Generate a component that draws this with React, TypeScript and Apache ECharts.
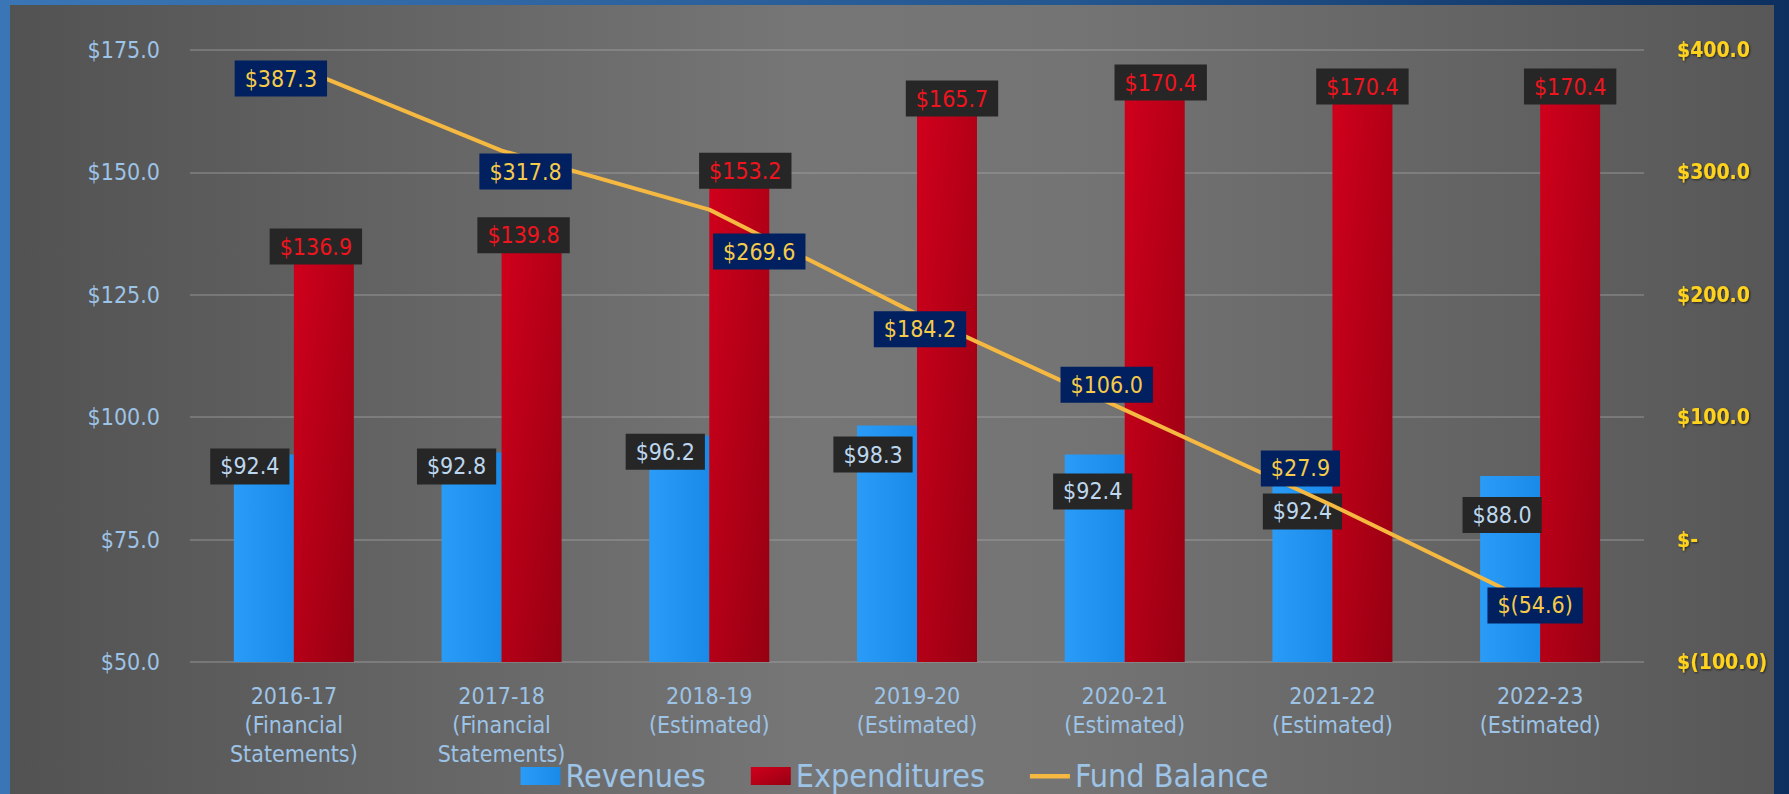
import React, { useEffect, useRef } from 'react';
import * as echarts from 'echarts';

const categories = [
  '2016-17\n(Financial\nStatements)',
  '2017-18\n(Financial\nStatements)',
  '2018-19\n(Estimated)',
  '2019-20\n(Estimated)',
  '2020-21\n(Estimated)',
  '2021-22\n(Estimated)',
  '2022-23\n(Estimated)',
];
const revenues = [92.4, 92.8, 96.2, 98.3, 92.4, 92.4, 88.0];
const expenditures = [136.9, 139.8, 153.2, 165.7, 170.4, 170.4, 170.4];
const fundBalance = [387.3, 317.8, 269.6, 184.2, 106.0, 27.9, -54.6];

// label nudges (style only)
const revLabelOffsets = [[-14, -6], [-15, -4], [-14, -2], [-14, 11], [-2, 19], [0, 39], [-8, 21]];
const expLabelOffsets = [[-8, -8], [-8, -5], [6, -4], [5, -15], [6, -8], [0, -4], [0, -4]];
const fundLabelOffsets = [[-13, 13], [24, 21], [50, 42], [3, 15], [-18, -25], [-32, -37], [-5, -1]];

const FONT = '"DejaVu Sans Condensed", "DejaVu Sans", sans-serif';

const money = (v: number) => '$' + v.toFixed(1);
const moneyParen = (v: number) => (v === 0 ? '$-' : v < 0 ? '$(' + Math.abs(v).toFixed(1) + ')' : '$' + v.toFixed(1));

const boxLabel = (color: string, bg: string, fmt: (v: number) => string) => ({
  show: true,
  formatter: (p: any) => fmt(p.value),
  color,
  backgroundColor: bg,
  padding: [6, 10],
  fontSize: 23,
  lineHeight: 24,
  fontFamily: FONT,
});

export default function App() {
  const ref = useRef<HTMLDivElement>(null);
  useEffect(() => {
    const chart = echarts.init(ref.current!, null, { renderer: 'svg' });
    const option: any = {
      animation: false,
      backgroundColor: new echarts.graphic.LinearGradient(0, 0, 1, 0, [
        { offset: 0, color: '#3a76b6' },
        { offset: 0.6, color: '#24568f' },
        { offset: 1, color: '#0c2f5f' },
      ]),
      textStyle: { fontFamily: FONT },
      graphic: [
        {
          type: 'rect',
          z: -10,
          silent: true,
          shape: { x: 10, y: 5, width: 1764, height: 800 },
          style: {
            fill: new echarts.graphic.LinearGradient(0, 0, 1, 0, [
              { offset: 0, color: '#525252' },
              { offset: 0.45, color: '#767676' },
              { offset: 0.6, color: '#747474' },
              { offset: 1, color: '#575757' },
            ]),
          },
        },
      ],
      grid: { left: 190, right: 145, top: 50, bottom: 132, containLabel: false },
      legend: {
        top: 755,
        left: 'center',
        itemWidth: 40,
        itemHeight: 18,
        itemGap: 45,
        textStyle: { color: '#9DC3E6', fontSize: 32, fontFamily: FONT },
        data: [
          { name: 'Revenues', icon: 'rect' },
          { name: 'Expenditures', icon: 'rect' },
          { name: 'Fund Balance', icon: 'path://M0,0 M0,7 L40,7 L40,11.5 L0,11.5 Z M40,18' },
        ],
      },
      xAxis: {
        type: 'category',
        data: categories,
        axisLine: { show: false },
        axisTick: { show: false },
        axisLabel: {
          interval: 0,
          color: '#9DC3E6',
          fontSize: 23,
          lineHeight: 29,
          margin: 19,
          fontFamily: FONT,
        },
      },
      yAxis: [
        {
          type: 'value',
          min: 50,
          max: 175,
          interval: 25,
          axisLine: { show: false },
          axisTick: { show: false },
          splitLine: { lineStyle: { color: 'rgba(170,170,170,0.5)', width: 1.5 } },
          axisLabel: { color: '#9DC3E6', fontSize: 23, margin: 30, formatter: money, fontFamily: FONT },
        },
        {
          type: 'value',
          min: -100,
          max: 400,
          interval: 100,
          position: 'right',
          axisLine: { show: false },
          axisTick: { show: false },
          splitLine: { show: false },
          axisLabel: {
            color: '#FFD21F',
            fontSize: 21,
            fontWeight: 'bold',
            margin: 33,
            formatter: moneyParen,
            fontFamily: FONT,
            textShadowColor: 'rgba(0,0,0,0.6)',
            textShadowBlur: 2,
            textShadowOffsetX: 1,
            textShadowOffsetY: 1,
          },
        },
      ],
      series: [
        {
          name: 'Revenues',
          type: 'bar',
          yAxisIndex: 0,
          barWidth: 60,
          barGap: '0%',
          z: 2,
          itemStyle: {
            color: new echarts.graphic.LinearGradient(0, 0, 1, 0, [
              { offset: 0, color: '#2a9cf8' },
              { offset: 1, color: '#1a8ae8' },
            ]),
          },
          label: { ...boxLabel('#BDD7EE', '#262626', money), position: 'insideTop', distance: 0 },
          data: revenues.map((v, i) => ({ value: v, label: { offset: revLabelOffsets[i] } })),
        },
        {
          name: 'Expenditures',
          type: 'bar',
          yAxisIndex: 0,
          barWidth: 60,
          barGap: '0%',
          z: 2,
          itemStyle: {
            color: new echarts.graphic.LinearGradient(0, 0, 1, 1, [
              { offset: 0, color: '#d2001c' },
              { offset: 1, color: '#960012' },
            ]),
          },
          label: { ...boxLabel('#F0141E', '#262626', money), position: 'insideTop', distance: 0 },
          data: expenditures.map((v, i) => ({ value: v, label: { offset: expLabelOffsets[i] } })),
        },
        {
          name: 'Fund Balance',
          type: 'line',
          yAxisIndex: 1,
          z: 5,
          symbol: 'circle',
          symbolSize: 1,
          showSymbol: true,
          lineStyle: { color: '#F5B942', width: 4 },
          itemStyle: { color: '#F5B942' },
          label: { ...boxLabel('#F6CB4A', '#002060', moneyParen), position: 'inside' },
          data: fundBalance.map((v, i) => ({ value: v, label: { offset: fundLabelOffsets[i] } })),
        },
      ],
    };
    chart.setOption(option);
    return () => chart.dispose();
  }, []);
  return <div ref={ref} style={{ position: 'fixed', left: 0, top: 0, width: 1789, height: 794 }} />;
}
